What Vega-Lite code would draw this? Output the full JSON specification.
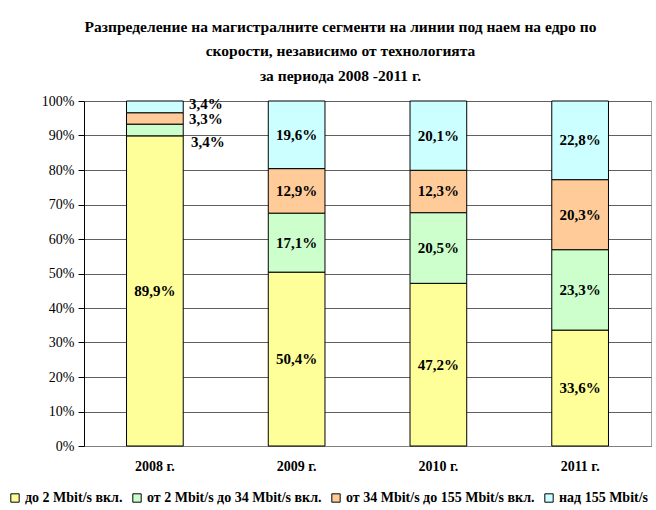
{
  "$schema": "https://vega.github.io/schema/vega-lite/v6.json",
  "autosize": "none",
  "width": 567,
  "height": 345,
  "padding": {"left": 84, "top": 101, "right": 5, "bottom": 64},
  "background": "white",
  "title": {
    "text": ["Разпределение на магистралните сегменти на линии под наем на едро по", "скорости, независимо от технологията", "за периода 2008 -2011 г."],
    "font": "Liberation Serif, DejaVu Serif, serif",
    "fontSize": 15.5,
    "fontWeight": "bold",
    "color": "black",
    "anchor": "middle",
    "frame": "group",
    "dx": -27,
    "offset": 10,
    "lineHeight": 24.5
  },
  "data": {
    "values": [
      {"year": "2008 г.", "category": "до 2 Mbit/s вкл.", "order": 1, "value": 89.9},
      {"year": "2008 г.", "category": "от 2 Mbit/s до 34 Mbit/s вкл.", "order": 2, "value": 3.4},
      {"year": "2008 г.", "category": "от 34 Mbit/s до 155 Mbit/s вкл.", "order": 3, "value": 3.3},
      {"year": "2008 г.", "category": "над 155 Mbit/s", "order": 4, "value": 3.4},
      {"year": "2009 г.", "category": "до 2 Mbit/s вкл.", "order": 1, "value": 50.4},
      {"year": "2009 г.", "category": "от 2 Mbit/s до 34 Mbit/s вкл.", "order": 2, "value": 17.1},
      {"year": "2009 г.", "category": "от 34 Mbit/s до 155 Mbit/s вкл.", "order": 3, "value": 12.9},
      {"year": "2009 г.", "category": "над 155 Mbit/s", "order": 4, "value": 19.6},
      {"year": "2010 г.", "category": "до 2 Mbit/s вкл.", "order": 1, "value": 47.2},
      {"year": "2010 г.", "category": "от 2 Mbit/s до 34 Mbit/s вкл.", "order": 2, "value": 20.5},
      {"year": "2010 г.", "category": "от 34 Mbit/s до 155 Mbit/s вкл.", "order": 3, "value": 12.3},
      {"year": "2010 г.", "category": "над 155 Mbit/s", "order": 4, "value": 20.1},
      {"year": "2011 г.", "category": "до 2 Mbit/s вкл.", "order": 1, "value": 33.6},
      {"year": "2011 г.", "category": "от 2 Mbit/s до 34 Mbit/s вкл.", "order": 2, "value": 23.3},
      {"year": "2011 г.", "category": "от 34 Mbit/s до 155 Mbit/s вкл.", "order": 3, "value": 20.3},
      {"year": "2011 г.", "category": "над 155 Mbit/s", "order": 4, "value": 22.8}
    ]
  },
  "transform": [
    {"stack": "value", "groupby": ["year"], "offset": "normalize", "sort": [{"field": "order", "order": "ascending"}], "as": ["y0", "y1"]},
    {"calculate": "(datum.y0 + datum.y1) / 2", "as": "mid"},
    {"calculate": "replace(format(datum.value, '.1f'), '.', ',') + '%'", "as": "label"}
  ],
  "encoding": {
    "x": {
      "field": "year", "type": "nominal", "sort": null,
      "scale": {"paddingInner": 0.6, "paddingOuter": 0.3},
      "axis": {
        "title": null, "labelAngle": 0, "ticks": false, "domainColor": "#808080",
        "labelFont": "Liberation Serif, DejaVu Serif, serif", "labelFontSize": 14, "labelFontWeight": "bold",
        "labelColor": "black", "labelPadding": 13
      }
    },
    "y": {
      "field": "mid", "type": "quantitative",
      "scale": {"domain": [0, 1], "nice": false},
      "axis": {
        "title": null, "format": ".0%", "values": [0, 0.1, 0.2, 0.3, 0.4, 0.5, 0.6, 0.7, 0.8, 0.9, 1],
        "labelFont": "Liberation Serif, DejaVu Serif, serif", "labelFontSize": 14, "labelColor": "black",
        "domainColor": "black", "tickColor": "black", "tickSize": 6, "labelPadding": 4, "labelOverlap": false,
        "grid": true, "gridColor": "#606060", "gridWidth": 1
      }
    }
  },
  "layer": [
    {
      "mark": {"type": "bar", "stroke": "black", "strokeWidth": 1},
      "encoding": {
        "y": {
          "field": "y0", "type": "quantitative",
          "scale": {"domain": [0, 1], "nice": false},
          "axis": {
            "title": null, "format": ".0%", "values": [0, 0.1, 0.2, 0.3, 0.4, 0.5, 0.6, 0.7, 0.8, 0.9, 1],
            "labelFont": "Liberation Serif, DejaVu Serif, serif", "labelFontSize": 14, "labelColor": "black",
            "domainColor": "black", "tickColor": "black", "tickSize": 6, "labelPadding": 4, "labelOverlap": false,
            "grid": true, "gridColor": "#606060", "gridWidth": 1
          }
        },
        "y2": {"field": "y1"},
        "color": {
          "field": "category", "type": "nominal",
          "scale": {
            "domain": ["до 2 Mbit/s вкл.", "от 2 Mbit/s до 34 Mbit/s вкл.", "от 34 Mbit/s до 155 Mbit/s вкл.", "над 155 Mbit/s"],
            "range": ["#FFFF99", "#CCFFCC", "#FFCC99", "#CCFFFF"]
          },
          "legend": {
            "title": null, "orient": "none", "direction": "horizontal",
            "legendX": -76, "legendY": 390,
            "symbolType": "square", "symbolSize": 70, "symbolStrokeColor": "black", "symbolStrokeWidth": 1,
            "labelFont": "Liberation Serif, DejaVu Serif, serif", "labelFontSize": 14, "labelFontWeight": "bold", "labelColor": "black",
            "columnPadding": 7, "labelOffset": 3, "labelLimit": 300
          }
        }
      }
    },
    {
      "transform": [{"filter": "datum.year != '2008 г.' || datum.order == 1"}],
      "mark": {"type": "text", "font": "Liberation Serif, DejaVu Serif, serif", "fontSize": 15, "fontWeight": "bold", "color": "black"},
      "encoding": {"text": {"field": "label"}}
    },
    {
      "transform": [{"filter": "datum.year == '2008 г.' && datum.order == 4"}],
      "mark": {"type": "text", "font": "Liberation Serif, DejaVu Serif, serif", "fontSize": 15, "fontWeight": "bold", "color": "black", "align": "left", "dx": 34, "dy": -3},
      "encoding": {"text": {"field": "label"}}
    },
    {
      "transform": [{"filter": "datum.year == '2008 г.' && datum.order == 3"}],
      "mark": {"type": "text", "font": "Liberation Serif, DejaVu Serif, serif", "fontSize": 15, "fontWeight": "bold", "color": "black", "align": "left", "dx": 34, "dy": 1},
      "encoding": {"text": {"field": "label"}}
    },
    {
      "transform": [{"filter": "datum.year == '2008 г.' && datum.order == 2"}],
      "mark": {"type": "text", "font": "Liberation Serif, DejaVu Serif, serif", "fontSize": 15, "fontWeight": "bold", "color": "black", "align": "left", "dx": 36, "dy": 12},
      "encoding": {"text": {"field": "label"}}
    }
  ],
  "config": {
    "view": {"stroke": "#A0A0A0", "strokeWidth": 1}
  }
}
